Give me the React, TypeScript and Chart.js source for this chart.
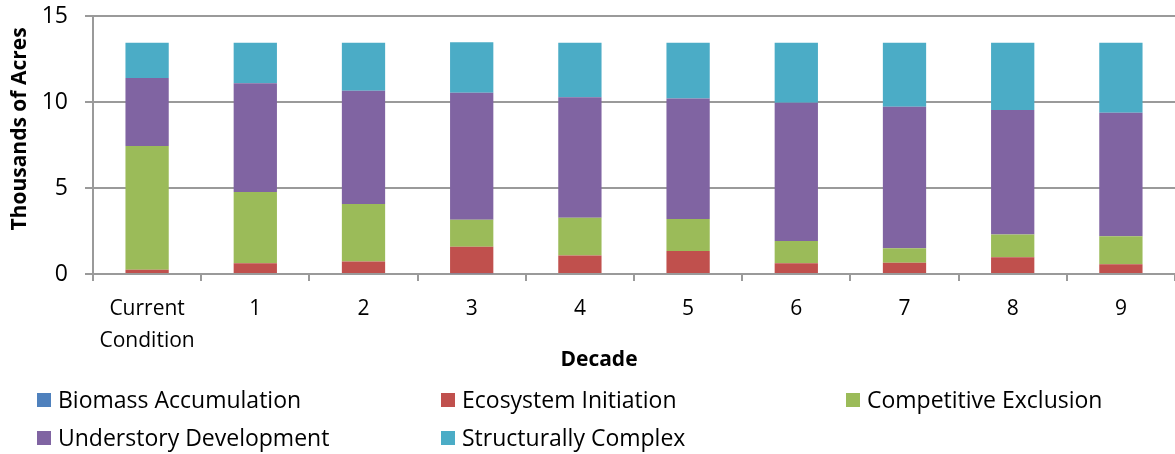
import React, { useEffect, useRef } from "react";
import { Chart, registerables } from "chart.js";

Chart.register(...registerables);

const categories: (string | string[])[] = [["Current", "Condition"], "1", "2", "3", "4", "5", "6", "7", "8", "9"];
const seriesNames = [
  "Biomass Accumulation",
  "Ecosystem Initiation",
  "Competitive Exclusion",
  "Understory Development",
  "Structurally Complex",
];
const seriesColors = ["#4F81BD", "#C0504D", "#9BBB59", "#8064A2", "#4BACC6"];
const biomassAccumulation = [0, 0, 0, 0.04, 0, 0, 0, 0, 0, 0];
const ecosystemInitiation = [0.25, 0.62, 0.72, 1.55, 1.07, 1.34, 0.62, 0.66, 0.97, 0.56];
const competitiveExclusion = [7.19, 4.15, 3.35, 1.57, 2.2, 1.86, 1.3, 0.83, 1.32, 1.63];
const understoryDevelopment = [3.96, 6.32, 6.59, 7.38, 7.0, 7.01, 8.04, 8.24, 7.24, 7.19];
const structurallyComplex = [2.05, 2.36, 2.79, 2.93, 3.18, 3.24, 3.49, 3.72, 3.92, 4.07];
const yTicks = [0, 5, 10, 15];
const xTitle = "Decade";
const yTitle = "Thousands of Acres";

const FONT = "'Open Sans', sans-serif";

const legendPlugin = {
  id: "gridLegend",
  afterDraw(chart: any) {
    const ctx = chart.ctx;
    const cols = [37, 441, 846];
    const rows = [400, 438];
    ctx.save();
    ctx.font = `23px ${FONT}`;
    ctx.textBaseline = "middle";
    ctx.textAlign = "left";
    chart.data.datasets.forEach((ds: any, i: number) => {
      const x = cols[i % 3];
      const y = rows[Math.floor(i / 3)];
      ctx.fillStyle = ds.backgroundColor;
      ctx.fillRect(x, y - 7, 14, 14);
      ctx.fillStyle = "#000";
      ctx.fillText(ds.label, x + 21, y + 1);
    });
    // axis titles
    ctx.font = `bold 21px ${FONT}`;
    ctx.textAlign = "center";
    ctx.fillText(xTitle, 599, 360);
    ctx.translate(19, 129);
    ctx.rotate(-Math.PI / 2);
    ctx.fillText(yTitle, 0, 1);
    ctx.restore();
  },
};

export default function App() {
  const ref = useRef<HTMLCanvasElement>(null);
  useEffect(() => {
    if (!ref.current) return;
    const values = [biomassAccumulation, ecosystemInitiation, competitiveExclusion, understoryDevelopment, structurallyComplex];
    const chart = new Chart(ref.current, {
      type: "bar",
      data: {
        labels: categories,
        datasets: seriesNames.map((name, i) => ({
          label: name,
          data: values[i],
          backgroundColor: seriesColors[i],
          borderWidth: 0,
          barPercentage: 0.4,
          categoryPercentage: 1,
        })),
      },
      options: {
        responsive: false,
        animation: false,
        layout: { padding: { top: 16, right: 0, bottom: 80, left: 0 } },
        plugins: { legend: { display: false }, tooltip: { enabled: false } },
        scales: {
          x: {
            stacked: true,
            grid: { offset: true, drawOnChartArea: false, color: "#9a9a9a", lineWidth: 2, tickLength: 7 },
            border: { color: "#9a9a9a", width: 2 },
            ticks: { color: "#000", font: { family: FONT, size: 21, lineHeight: 1.52 }, padding: 12, maxRotation: 0, autoSkip: false },
            afterFit: (s: any) => { s.height = 100; },
          },
          y: {
            stacked: true,
            min: 0,
            max: 15,
            afterBuildTicks: (s: any) => { s.ticks = yTicks.map((v) => ({ value: v })); },
            grid: { color: "#9a9a9a", lineWidth: 2, tickLength: 8 },
            border: { color: "#9a9a9a", width: 2 },
            ticks: { color: "#000", font: { family: FONT, size: 23 }, padding: 17 },
            afterFit: (s: any) => { s.width = 93; s.paddingTop = 0; s.paddingBottom = 0; },
          },
        },
      },
      plugins: [legendPlugin],
    });
    return () => chart.destroy();
  }, []);
  return (
    <div style={{ position: "absolute", left: 0, top: 0, width: 1175, height: 454, background: "#fff" }}>
      <canvas ref={ref} width={1175} height={454} />
    </div>
  );
}
